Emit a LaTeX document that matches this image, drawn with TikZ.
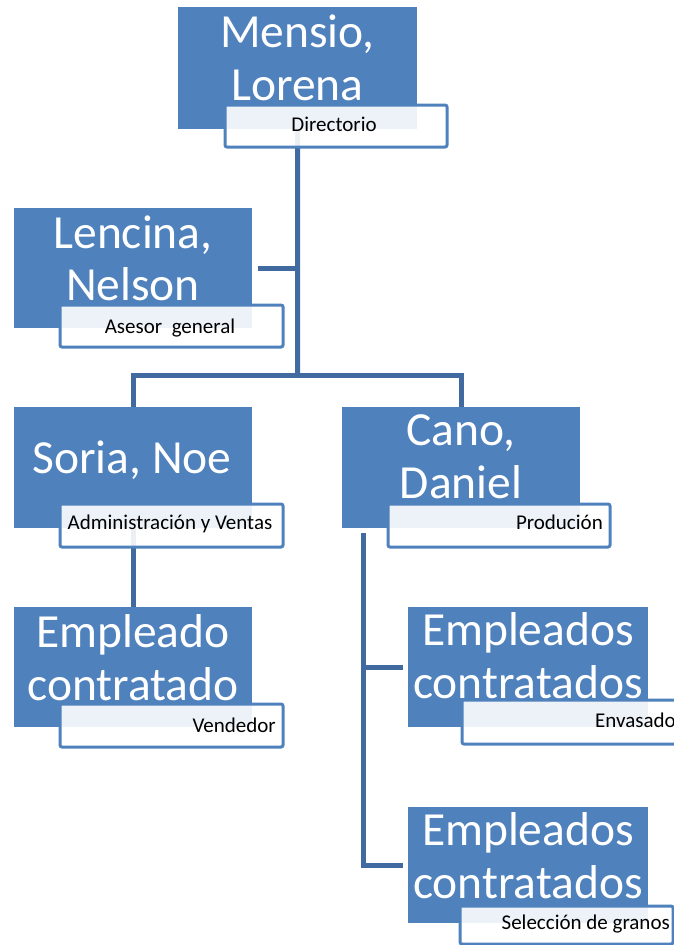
\documentclass[tikz,border=0pt]{standalone}
\usepackage{fontspec}
\setmainfont{Carlito}
\usetikzlibrary{backgrounds}
\definecolor{boxblue}{HTML}{4F81BD}
\definecolor{linkblue}{RGB}{64,106,160}
\begin{document}
\begin{tikzpicture}[x=1pt,y=-1pt,
  personbox/.style={fill=boxblue, minimum width=238pt, minimum height=121pt,
    inner sep=0pt, anchor=north west},
  rolebox/.style={fill=white, fill opacity=0.9, draw=boxblue, line width=3pt,
    rounded corners=2pt, minimum width=223pt, minimum height=42pt,
    inner sep=0pt, anchor=north west},
  nametext/.style={text=white, font=\fontsize{47.5}{53}\selectfont, anchor=base,
    inner sep=0pt},
  roletext/.style={font=\fontsize{21}{24}\selectfont, inner sep=0pt, anchor=base},
  linkline/.style={draw=linkblue, line width=5pt}]
\useasboundingbox (0,0) rectangle (674,945);
\clip (0,0) rectangle (674,945);

% blue person boxes
\node[personbox, minimum width=239pt, minimum height=122pt] (mensio) at (178,7) {};
\node[personbox, minimum height=120pt] (lencina) at (14,208) {};
\node[personbox] (soria) at (14,407) {};
\node[personbox] (cano) at (342,407) {};
\node[personbox, minimum height=120pt] (vend) at (14,607) {};
\node[personbox, minimum width=240pt, minimum height=120pt] (env) at (408,607) {};
\node[personbox, minimum width=240pt, minimum height=116pt] (sel) at (408,807) {};

% names
\node[nametext] (mensioA) at (297.5,47) {Mensio,};
\node[nametext] (mensioB) at (297.5,100) {Lorena};
\node[nametext] (lencinaA) at (133,248) {Lencina,};
\node[nametext] (lencinaB) at (133,300) {Nelson};
\node[nametext] (soriaA) at (132,473) {Soria, Noe};
\node[nametext] (canoA) at (461,445) {Cano,};
\node[nametext] (canoB) at (461,498) {Daniel};
\node[nametext] (vendA) at (133,647) {Empleado};
\node[nametext] (vendB) at (133,700) {contratado};
\node[nametext] (envA) at (528,645) {Empleados};
\node[nametext] (envB) at (528,698) {contratados};
\node[nametext] (selA) at (528,845) {Empleados};
\node[nametext] (selB) at (528,898) {contratados};

% role boxes
\node[rolebox, minimum width=222pt] (dirR) at (223.5,103.5) {};
\node[rolebox] (aseR) at (58.5,303.5) {};
\node[rolebox, minimum height=43pt] (admR) at (58.5,502.5) {};
\node[rolebox, minimum width=222pt, minimum height=43pt] (prodR) at (386.5,502.5) {};
\node[rolebox, minimum height=43pt] (vendR) at (58.5,702.5) {};
\node[rolebox, minimum width=230pt, minimum height=44pt] (envR) at (460.5,698.5) {};
\node[rolebox, minimum width=213pt, minimum height=38pt] (selR) at (458.5,904.5) {};

% role texts
\node[roletext] (dirT) at (334,131) {Directorio};
\node[roletext] (aseT) at (170,333) {Asesor~ general};
\node[roletext] (admT) at (170,529) {Administración y Ventas};
\node[roletext, anchor=base east] (prodT) at (603,529) {Produción};
\node[roletext, anchor=base east] (vendT) at (276,732) {Vendedor};
\node[roletext, anchor=base west] (envT) at (595,727) {Envasado};
\node[roletext, anchor=base east] (selT) at (670,929) {Selección de granos};

% connectors
\coordinate (bus) at (297.5,375);
\coordinate (canoDrop) at ([xshift=21pt,yshift=-5pt]cano.south west);
\begin{scope}[on background layer]
  \draw[linkline] (mensio.south) -- (bus);
  \draw[linkline] ([xshift=6pt]lencina.east) -- (lencina.east -| mensio.south);
  \draw[linkline] (soria.north) -- (soria.north |- bus) -- (cano.north |- bus) -- (cano.north);
  \draw[linkline] (soria.south) -- (vend.north);
  \draw[linkline] (canoDrop) -- (canoDrop |- sel.west) -- ([xshift=-5pt]sel.west);
  \draw[linkline] (canoDrop |- env.west) -- ([xshift=-5pt]env.west);
\end{scope}
\end{tikzpicture}
\end{document}
